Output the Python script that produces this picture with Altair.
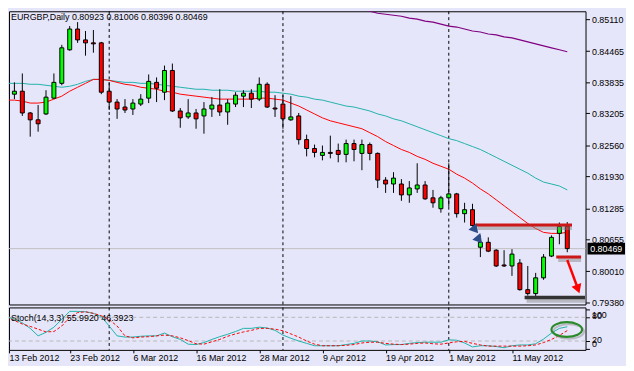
import altair as alt
import pandas as pd

symbol_title = "EURGBP,Daily  0.80923 0.81006 0.80396 0.80469"
stoch_title = "Stoch(14,3,3) 55.9920 46.3923"
date_labels = ["13 Feb 2012", "23 Feb 2012", "6 Mar 2012", "16 Mar 2012", "28 Mar 2012",
               "9 Apr 2012", "19 Apr 2012", "1 May 2012", "11 May 2012"]
date_tick_idx = [0, 8, 16, 24, 32, 40, 48, 56, 64]
price_ticks = [0.85110, 0.84465, 0.83835, 0.83205, 0.82560, 0.81930, 0.81285, 0.80655, 0.80010, 0.79380]
stoch_ticks = [0, 20, 80, 100]
stoch_levels = [20, 80]
month_separators = [13, 35, 56]
last_price = 0.80469

opens = [0.83992, 0.83593, 0.83653, 0.83213, 0.83074, 0.83193, 0.83513, 0.83812, 0.84491, 0.84911,
         0.84691, 0.84631, 0.84631, 0.83653, 0.83433, 0.83333, 0.83293, 0.83393, 0.83513, 0.83832,
         0.83633, 0.84072, 0.83253, 0.83133, 0.83213, 0.83153, 0.83293, 0.83373, 0.83233, 0.83393,
         0.83553, 0.83613, 0.83493, 0.83793, 0.83313, 0.83393, 0.83074, 0.83153, 0.82674, 0.82494,
         0.82355, 0.82415, 0.82455, 0.82375, 0.82594, 0.82395, 0.82574, 0.82395, 0.81855, 0.81776,
         0.81776, 0.81556, 0.81676, 0.81756, 0.81496, 0.81276, 0.81496, 0.81576, 0.81176, 0.81256,
         0.80497, 0.80597, 0.80437, 0.80138, 0.80118, 0.80178, 0.79639, 0.79559, 0.79878, 0.80318,
         0.80777, 0.80923]
highs = [0.84032, 0.83832, 0.84012, 0.83233, 0.83373, 0.83673, 0.84012, 0.84591, 0.84971, 0.85051,
         0.84871, 0.84891, 0.84651, 0.83832, 0.83493, 0.83493, 0.83493, 0.83593, 0.83992, 0.83932,
         0.84172, 0.84212, 0.83313, 0.83493, 0.83293, 0.83433, 0.83533, 0.83693, 0.83493, 0.83633,
         0.83673, 0.83693, 0.83932, 0.83832, 0.83573, 0.83573, 0.83553, 0.83213, 0.82774, 0.82574,
         0.82554, 0.82754, 0.82594, 0.82674, 0.82674, 0.82674, 0.82614, 0.82415, 0.81915, 0.82015,
         0.81875, 0.81835, 0.82195, 0.81835, 0.81656, 0.81536, 0.82195, 0.81596, 0.81396, 0.81376,
         0.80737, 0.80697, 0.80457, 0.80437, 0.80457, 0.80258, 0.80118, 0.79978, 0.80358, 0.80737,
         0.80997, 0.81006]
lows = [0.83533, 0.83493, 0.83153, 0.82734, 0.82834, 0.83173, 0.83493, 0.83773, 0.84471, 0.84631,
        0.84372, 0.84432, 0.83593, 0.83273, 0.83094, 0.83213, 0.83173, 0.83353, 0.83413, 0.83433,
        0.83473, 0.83233, 0.82914, 0.83094, 0.82894, 0.82794, 0.83133, 0.83153, 0.82974, 0.83333,
        0.83333, 0.83313, 0.83453, 0.83313, 0.83133, 0.82894, 0.83054, 0.82574, 0.82335, 0.82315,
        0.82255, 0.82295, 0.82215, 0.82215, 0.82235, 0.82055, 0.82255, 0.81696, 0.81596, 0.81596,
        0.81436, 0.81396, 0.81596, 0.81456, 0.81296, 0.81196, 0.81316, 0.81097, 0.80997, 0.80917,
        0.80298, 0.80398, 0.80098, 0.80098, 0.79918, 0.79619, 0.79519, 0.79499, 0.79838, 0.80298,
        0.80557, 0.80396]
closes = [0.83593, 0.83653, 0.83213, 0.83074, 0.82994, 0.83533, 0.83832, 0.84531, 0.84911, 0.84691,
          0.84631, 0.84611, 0.83633, 0.83433, 0.83293, 0.83273, 0.83413, 0.83493, 0.83852, 0.83713,
          0.84072, 0.83253, 0.83114, 0.83213, 0.83094, 0.83293, 0.83373, 0.83233, 0.83413, 0.83573,
          0.83613, 0.83493, 0.83793, 0.83333, 0.83293, 0.83094, 0.83133, 0.82674, 0.82494, 0.82415,
          0.82415, 0.82395, 0.82375, 0.82594, 0.82474, 0.82574, 0.82395, 0.81855, 0.81776, 0.81895,
          0.81556, 0.81696, 0.81756, 0.81476, 0.81396, 0.81496, 0.81576, 0.81176, 0.81256, 0.80937,
          0.80597, 0.80418, 0.80118, 0.80118, 0.80358, 0.79639, 0.79559, 0.79878, 0.80298, 0.80697,
          0.80917, 0.80469]
ma_red = [0.83473, 0.83473, 0.83453, 0.83413, 0.83413, 0.83433, 0.83493, 0.83553, 0.83653, 0.83733,
          0.83812, 0.83892, 0.83892, 0.83872, 0.83832, 0.83793, 0.83773, 0.83733, 0.83713, 0.83693,
          0.83653, 0.83633, 0.83593, 0.83573, 0.83553, 0.83533, 0.83513, 0.83493, 0.83493, 0.83493,
          0.83493, 0.83493, 0.83513, 0.83513, 0.83493, 0.83473, 0.83413, 0.83353, 0.83273, 0.83193,
          0.83114, 0.83054, 0.83014, 0.82974, 0.82934, 0.82894, 0.82814, 0.82734, 0.82634, 0.82554,
          0.82474, 0.82415, 0.82335, 0.82275, 0.82195, 0.82135, 0.82075, 0.81975, 0.81895, 0.81795,
          0.81676, 0.81576, 0.81456, 0.81336, 0.81216, 0.81097, 0.80977, 0.80877, 0.80797, 0.80777,
          0.80777, 0.80797]
ma_teal = [0.83812, 0.83812, 0.83812, 0.83793, 0.83793, 0.83773, 0.83753, 0.83733, 0.83753, 0.83793,
           0.83852, 0.83892, 0.83892, 0.83872, 0.83852, 0.83832, 0.83832, 0.83812, 0.83812, 0.83793,
           0.83773, 0.83753, 0.83733, 0.83713, 0.83693, 0.83693, 0.83673, 0.83673, 0.83673, 0.83653,
           0.83653, 0.83653, 0.83653, 0.83633, 0.83633, 0.83613, 0.83593, 0.83553, 0.83533, 0.83493,
           0.83473, 0.83433, 0.83393, 0.83353, 0.83333, 0.83293, 0.83253, 0.83193, 0.83153, 0.83094,
           0.83054, 0.82994, 0.82934, 0.82874, 0.82814, 0.82754, 0.82694, 0.82654, 0.82594, 0.82534,
           0.82474, 0.82395, 0.82315, 0.82235, 0.82155, 0.82075, 0.81995, 0.81895, 0.81815, 0.81776,
           0.81736, 0.81656]
ma_purple_start = 44
ma_purple = [0.85370, 0.85310, 0.85270, 0.85230, 0.85210, 0.85190, 0.85170, 0.85130, 0.85110, 0.85071,
             0.85051, 0.85011, 0.84971, 0.84951, 0.84911, 0.84871, 0.84851, 0.84811, 0.84791, 0.84751,
             0.84731, 0.84691, 0.84651, 0.84611, 0.84571, 0.84531, 0.84491, 0.84451]
stoch_k = [81, 75, 66, 52, 33, 42, 55, 75, 95, 95, 94, 90, 82, 58, 33, 30, 30, 32, 33, 33,
           40, 31, 24, 12, 11, 16, 24, 31, 37, 44, 52, 52, 55, 53, 47, 35, 27, 20, 14, 8,
           8, 8, 8, 11, 14, 20, 20, 18, 10, 11, 11, 14, 16, 17, 17, 17, 23, 22, 15, 5,
           8, 8, 6, 3, 8, 10, 10, 13, 25, 40, 52, 55.99]
stoch_d = [80, 72, 63, 57, 50, 43, 44, 58, 80, 92, 94, 90, 84, 74, 58, 33, 28, 30, 31, 33,
           35, 33, 28, 21, 13, 12, 18, 24, 32, 38, 43, 47, 52, 52, 50, 46, 38, 30, 20, 12,
           8, 8, 8, 9, 11, 15, 17, 17, 14, 12, 11, 12, 14, 15, 13, 12, 15, 18, 19, 14,
           10, 7, 7, 7, 7, 7, 8, 10, 16, 24, 34, 46.39]

# hand-drawn annotations (bar index, price / stoch value)
resistance = {"x1": 59.4, "x2": 71.6, "p": 0.80947}
target_mark = {"x1": 69.6, "x2": 72.75, "p": 0.80298}
support = {"x1": 65.6, "x2": 73.25, "p": 0.79479}
red_arrow = {"x1": 71.0, "p1": 0.80238, "x2": 72.4, "p2": 0.79640}
red_head = {"x": 72.35, "p": 0.79650}
blue_heads = {"x": [59.35, 59.85], "p": [0.80847, 0.80647]}
ellipse_center = {"x": 70.94, "v": 49}

# ---------------- build ----------------
n = len(opens)
df = pd.DataFrame({
    "idx": list(range(n)), "open": opens, "high": highs, "low": lows, "close": closes,
    "ma_red": ma_red, "ma_teal": ma_teal, "k": stoch_k, "d": stoch_d,
})
df["dir"] = ["up" if c > o else "down" for o, c in zip(opens, closes)]
purple_df = pd.DataFrame({"idx": list(range(ma_purple_start, ma_purple_start + len(ma_purple))),
                          "ma": ma_purple})

W = 584
X_LO, X_HI = 0.3125, 73.3125
XS = alt.Scale(domain=[X_LO, X_HI], nice=False, zero=False, padding=0)
YP = alt.Scale(domain=[0.79339, 0.85270], nice=False, zero=False, padding=0)
YS = alt.Scale(domain=[-2.5, 105], nice=False, zero=False, padding=0)
FONT = "Liberation Sans"

price_axis = alt.Axis(orient="right", values=price_ticks, format=".5f", title=None, grid=False,
                      domain=False, tickSize=4, labelPadding=2, labelOverlap=False,
                      labelFontSize=9)
label_expr = "[" + ",".join("'%s'" % d for d in date_labels) + "][round(datum.value/8)]"
date_axis = alt.Axis(values=[max(v, X_LO) for v in date_tick_idx], labelExpr=label_expr,
                     labelAlign="left", title=None, grid=False, domain=False, tickSize=3,
                     labelPadding=1, labelOverlap=False, labelFontSize=9)
# MetaTrader keeps the min/max labels inside the sub-window, next to the level labels
stoch_axis = alt.Axis(orient="right", values=stoch_ticks, title=None, grid=False, domain=False,
                      tickSize=4, labelPadding=2, labelOverlap=False, labelFontSize=9,
                      labelOffset={"condition": [{"test": "datum.value == 100", "value": 5},
                                                 {"test": "datum.value == 80", "value": -2},
                                                 {"test": "datum.value == 0", "value": -5}],
                                   "value": -1})

XM = lambda f: alt.X(f, scale=XS, axis=None)
YM = lambda f: alt.Y(f, scale=YP, axis=price_axis)
XT = lambda f: alt.X(f, scale=XS, axis=date_axis)
YT = lambda f: alt.Y(f, scale=YS, axis=stoch_axis)

base = alt.Chart(df)

cur_line = alt.Chart(pd.DataFrame({"p": [last_price]})).mark_rule(
    color="#C0C0C0", strokeWidth=1).encode(y=YM("p:Q"))
sep_df = pd.DataFrame({"s": month_separators})
sep_main = alt.Chart(sep_df).mark_rule(color="black", strokeDash=[3, 3], strokeWidth=1).encode(
    x=XM("s:Q"))

ma_r = base.mark_line(color="#FF0000", strokeWidth=1, clip=True).encode(x=XM("idx:Q"), y=YM("ma_red:Q"))
ma_t = base.mark_line(color="#20B2AA", strokeWidth=1, clip=True).encode(x=XM("idx:Q"), y=YM("ma_teal:Q"))
ma_p = alt.Chart(purple_df).mark_line(color="#800080", strokeWidth=1.2, clip=True).encode(
    x=XM("idx:Q"), y=YM("ma:Q"))

wicks = base.mark_rule(color="black", strokeWidth=1, clip=True).encode(
    x=XM("idx:Q"), y=YM("low:Q"), y2="high:Q")
bodies = base.mark_bar(width=4, stroke="black", strokeWidth=1, clip=True).encode(
    x=XM("idx:Q"), y=YM("open:Q"), y2="close:Q",
    fill=alt.Fill("dir:N", scale=alt.Scale(domain=["up", "down"], range=["#00FF00", "#FF0000"]),
                  legend=None))


def hseg(seg, color, width):
    d = pd.DataFrame([seg])
    shadow = alt.Chart(d).mark_rule(color="#808080", opacity=0.45, strokeWidth=width + 1,
                                    yOffset=3, xOffset=2, clip=True).encode(
        x=XM("x1:Q"), x2="x2:Q", y=YM("p:Q"))
    line = alt.Chart(d).mark_rule(color=color, strokeWidth=width, clip=True).encode(
        x=XM("x1:Q"), x2="x2:Q", y=YM("p:Q"))
    return [shadow, line]


arrow_line = alt.Chart(pd.DataFrame([red_arrow])).mark_rule(color="#FF0000", strokeWidth=2.5).encode(
    x=XM("x1:Q"), x2="x2:Q", y=YM("p1:Q"), y2="p2:Q")
arrow_head = alt.Chart(pd.DataFrame([red_head])).mark_point(
    shape="triangle-down", size=110, filled=True, color="#FF0000", opacity=1, angle=340).encode(
    x=XM("x:Q"), y=YM("p:Q"))
blue = alt.Chart(pd.DataFrame(blue_heads)).mark_point(
    shape="triangle-right", size=110, filled=True, color="#2E4E8A", opacity=1, angle=50).encode(
    x=XM("x:Q"), y=YM("p:Q"))

box_path = "M-1,-0.316L1,-0.316L1,0.316L-1,0.316Z"
price_box = alt.Chart(pd.DataFrame({"p": [last_price], "t": ["%.5f" % last_price]}))
box = price_box.mark_point(shape=box_path, size=38 * 38, filled=True, color="black",
                           opacity=1).encode(x=alt.value(605), y=YM("p:Q"))
box_text = price_box.mark_text(color="white", font=FONT, fontSize=9, align="center",
                               baseline="middle").encode(x=alt.value(605), y=YM("p:Q"), text="t:N")

header = alt.Chart(pd.DataFrame({"t": [symbol_title]})).mark_text(
    align="left", baseline="middle", font=FONT, fontSize=9, color="black").encode(
    x=alt.value(2), y=alt.value(5.5), text="t:N")

main = alt.layer(
    cur_line, sep_main, ma_p, ma_t, ma_r, wicks, bodies,
    *hseg(resistance, "#CC1818", 3), *hseg(target_mark, "#CC1818", 3),
    *hseg(support, "#333333", 3.5),
    arrow_line, arrow_head, blue, box, box_text, header,
).properties(width=W, height=297)

# ---------------- stochastic ----------------
lev = alt.Chart(pd.DataFrame({"v": stoch_levels})).mark_rule(
    color="#B8B8B8", strokeDash=[4, 3], strokeWidth=1).encode(y=YT("v:Q"))
sep_st = alt.Chart(sep_df).mark_rule(color="black", strokeDash=[3, 3], strokeWidth=1).encode(
    x=XT("s:Q"))
k_line = base.mark_line(color="#20B2AA", strokeWidth=1, clip=True).encode(x=XT("idx:Q"), y=YT("k:Q"))
d_line = base.mark_line(color="#FF0000", strokeWidth=1, strokeDash=[3, 2], clip=True).encode(
    x=XT("idx:Q"), y=YT("d:Q"))
st_label = alt.Chart(pd.DataFrame({"t": [stoch_title]})).mark_text(
    align="left", baseline="middle", font=FONT, fontSize=9, color="black").encode(
    x=alt.value(2), y=alt.value(10.5), text="t:N")
k = 0.48
c = round(0.552 * k, 3)
ell_path = ("M-1,0C-1,-{c},-0.552,-{k},0,-{k}C0.552,-{k},1,-{c},1,0"
            "C1,{c},0.552,{k},0,{k}C-0.552,{k},-1,{c},-1,0Z").format(c=c, k=k)
ell_df = pd.DataFrame({"x": [ellipse_center["x"]], "v": [ellipse_center["v"]]})
ell_shadow = alt.Chart(ell_df).mark_point(shape=ell_path, size=961, filled=False, color="#909090",
                                          strokeWidth=2, opacity=0.5, xOffset=2, yOffset=2).encode(
    x=XT("x:Q"), y=YT("v:Q"))
ell = alt.Chart(ell_df).mark_point(shape=ell_path, size=961, filled=False, color="#2A8A2A",
                                   strokeWidth=2.2, opacity=1).encode(x=XT("x:Q"), y=YT("v:Q"))

stoch = alt.layer(lev, sep_st, k_line, d_line, st_label, ell_shadow, ell).properties(width=W, height=43)

chart = alt.vconcat(main, stoch, spacing=3, bounds="flush").properties(
    padding=0, background="#E6E6FA"
).configure_view(stroke="black", strokeWidth=1).configure_axis(
    labelFont=FONT, labelColor="black", tickColor="black"
)

chart.save("out.html", embed_options={"renderer": "svg", "actions": False})
